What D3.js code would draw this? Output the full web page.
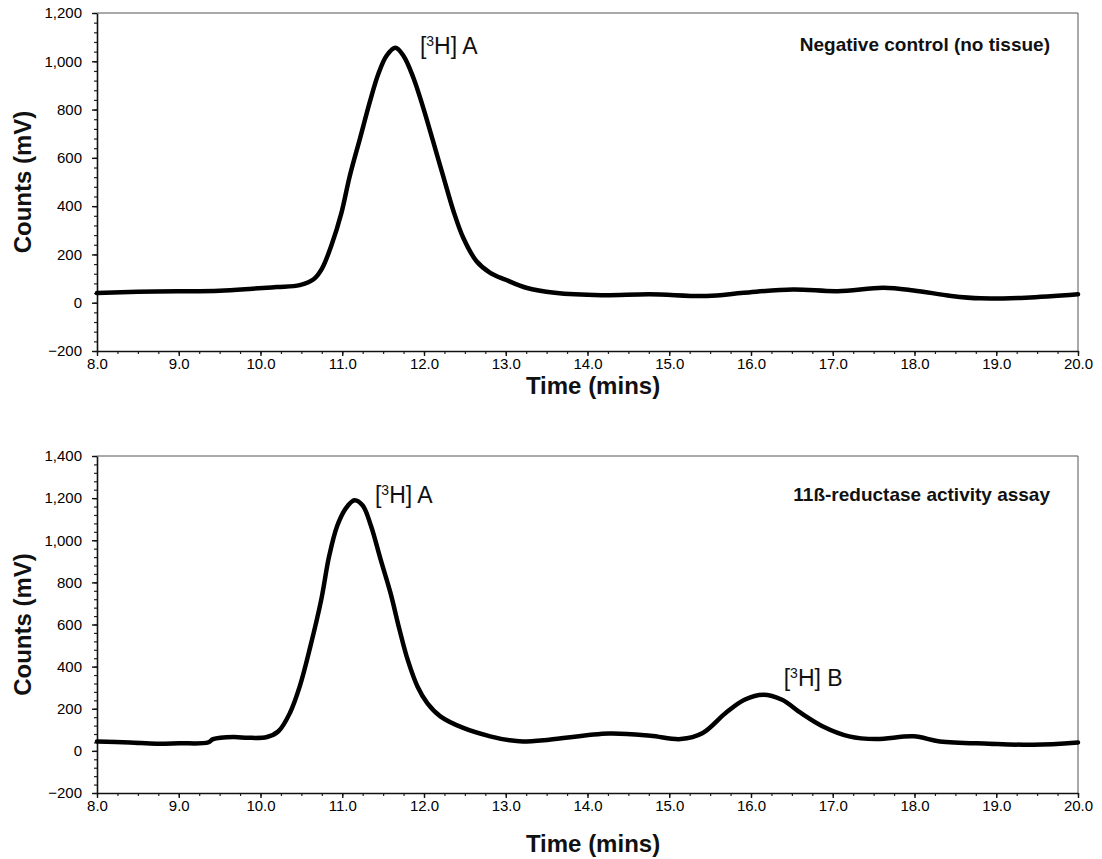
<!DOCTYPE html>
<html>
<head>
<meta charset="utf-8">
<script src="https://cdn.jsdelivr.net/npm/d3@7"></script>
<style>
  html, body { margin: 0; padding: 0; background: #fff; }
  svg { display: block; font-family: Arial, "Liberation Sans", sans-serif; }
</style>
</head>
<body>
<svg id="chart" width="1102" height="859"></svg>
<script>
// ---- Data ----
const xTicks = [8, 9, 10, 11, 12, 13, 14, 15, 16, 17, 18, 19, 20];
const topYTicks = [-200, 0, 200, 400, 600, 800, 1000, 1200];
const bottomYTicks = [-200, 0, 200, 400, 600, 800, 1000, 1200, 1400];

const topTime = [8.0, 8.5, 9.0, 9.5, 9.9, 10.2, 10.48, 10.65, 10.75, 10.87, 10.99, 11.09, 11.22, 11.34, 11.44, 11.54, 11.65, 11.75, 11.87, 11.99, 12.11, 12.24, 12.36, 12.48, 12.64, 12.81, 13.0, 13.25, 13.6, 14.17, 14.76, 15.46, 15.91, 16.51, 17.06, 17.62, 17.99, 18.45, 18.81, 19.36, 20.0];
const topCounts = [40, 45, 47, 50, 58, 65, 73, 97, 140, 240, 372, 522, 684, 835, 946, 1022, 1056, 1022, 932, 808, 670, 518, 380, 269, 173, 124, 95, 62, 41, 31, 35, 28, 41, 55, 48, 62, 51, 28, 18, 21, 35];

const bottomTime = [8.0, 8.4, 8.73, 9.0, 9.36, 9.42, 9.67, 9.85, 10.08, 10.22, 10.36, 10.48, 10.61, 10.74, 10.84, 10.94, 11.05, 11.15, 11.25, 11.35, 11.47, 11.59, 11.7, 11.8, 11.92, 12.04, 12.2, 12.48, 12.81, 13.05, 13.21, 13.53, 14.26, 14.77, 15.14, 15.41, 15.69, 15.92, 16.15, 16.38, 16.61, 16.88, 17.2, 17.53, 17.99, 18.31, 18.91, 19.46, 20.0];
const bottomCounts = [45, 40, 34, 36, 40, 56, 66, 62, 66, 93, 180, 306, 496, 712, 925, 1070, 1155, 1190, 1165, 1070, 908, 750, 576, 433, 306, 227, 164, 109, 69, 50, 45, 53, 82, 72, 56, 85, 180, 243, 267, 243, 180, 116, 69, 56, 69, 45, 34, 29, 40];

const panels = [
  { time: topTime, counts: topCounts, yTicks: topYTicks, yDomain: [-200, 1200], yRange: [351, 13],
    xAxisTitleY: 386, titleY: 51, peakLabels: [{ x: 11.95, y: 1030, sub: "A" }],
    title: "Negative control (no tissue)" },
  { time: bottomTime, counts: bottomCounts, yTicks: bottomYTicks, yDomain: [-200, 1400], yRange: [793, 456],
    xAxisTitleY: 844, titleY: 501, peakLabels: [{ x: 11.4, y: 1177, sub: "A" }, { x: 16.4, y: 310, sub: "B" }],
    title: "11ß-reductase activity assay" }
];

const svg = d3.select("#chart");
const xLeft = 97, xRight = 1078;
const FONT = "Arial, 'Liberation Sans', sans-serif";

panels.forEach(p => {
  const x = d3.scaleLinear().domain([8, 20]).range([xLeft, xRight]);
  const y = d3.scaleLinear().domain(p.yDomain).range(p.yRange);
  const g = svg.append("g");

  // frame (top + right)
  g.append("line").attr("x1", xLeft).attr("x2", xRight).attr("y1", p.yRange[1]).attr("y2", p.yRange[1])
    .attr("stroke", "#555").attr("stroke-width", 1);
  g.append("line").attr("x1", xRight).attr("x2", xRight).attr("y1", p.yRange[1]).attr("y2", p.yRange[0])
    .attr("stroke", "#555").attr("stroke-width", 1);

  // minor ticks
  const xMinor = d3.range(8, 20.0001, 0.25);
  g.append("g").attr("transform", `translate(0,${p.yRange[0]})`)
    .call(d3.axisBottom(x).tickValues(xMinor).tickSize(3).tickFormat(""))
    .call(s => s.select(".domain").remove())
    .call(s => s.selectAll("line").attr("stroke", "#222").attr("stroke-width", 1.2));
  const yMinor = d3.range(p.yDomain[0], p.yDomain[1] + 0.001, 40);
  g.append("g").attr("transform", `translate(${xLeft},0)`)
    .call(d3.axisLeft(y).tickValues(yMinor).tickSize(3).tickFormat(""))
    .call(s => s.select(".domain").remove())
    .call(s => s.selectAll("line").attr("stroke", "#222").attr("stroke-width", 1.2));

  // major axes
  const xAxis = d3.axisBottom(x).tickValues(xTicks).tickSize(5).tickSizeOuter(0).tickPadding(2).tickFormat(d3.format(".1f"));
  g.append("g").attr("transform", `translate(0,${p.yRange[0]})`).call(xAxis)
    .attr("font-size", 15)
    .call(s => s.select(".domain").attr("stroke", "#111").attr("stroke-width", 1.6))
    .call(s => s.selectAll("line").attr("stroke", "#111").attr("stroke-width", 1.4))
    .call(s => s.selectAll("text").attr("font-size", 15).attr("fill", "#000").attr("font-family", FONT));
  const yAxis = d3.axisLeft(y).tickValues(p.yTicks).tickSize(5).tickSizeOuter(0).tickPadding(10).tickFormat(d3.format(","));
  g.append("g").attr("transform", `translate(${xLeft},0)`).call(yAxis)
    .attr("font-size", 15)
    .call(s => s.select(".domain").attr("stroke", "#111").attr("stroke-width", 1.6))
    .call(s => s.selectAll("line").attr("stroke", "#111").attr("stroke-width", 1.4))
    .call(s => s.selectAll("text").attr("font-size", 15).attr("fill", "#000").attr("font-family", FONT));

  // axis titles
  g.append("text").attr("x", 593).attr("y", p.xAxisTitleY).attr("dy", "0.35em")
    .attr("text-anchor", "middle").attr("font-size", 24).attr("font-weight", "bold").attr("fill", "#111")
    .text("Time (mins)");
  const cy = (p.yRange[0] + p.yRange[1]) / 2;
  g.append("text").attr("transform", `translate(31,${cy}) rotate(-90)`)
    .attr("text-anchor", "middle").attr("font-size", 24).attr("font-weight", "bold").attr("fill", "#111")
    .text("Counts (mV)");

  // curve
  const line = d3.line().x((d, i) => x(p.time[i])).y((d, i) => y(p.counts[i])).curve(d3.curveCatmullRom.alpha(0.5));
  g.append("path").datum(p.counts).attr("d", line).attr("fill", "none")
    .attr("stroke", "#000").attr("stroke-width", 4.5).attr("stroke-linejoin", "round").attr("stroke-linecap", "round");

  // peak labels
  p.peakLabels.forEach(l => {
    const t = g.append("text").attr("x", x(l.x)).attr("y", y(l.y)).attr("font-size", 23).attr("fill", "#111");
    t.append("tspan").text("[");
    t.append("tspan").attr("font-size", 14).attr("dy", -8).text("3");
    t.append("tspan").attr("dy", 8).text("H] " + l.sub);
  });

  // panel title
  g.append("text").attr("x", 1050).attr("y", p.titleY).attr("text-anchor", "end")
    .attr("font-size", 19).attr("font-weight", "bold").attr("fill", "#111").text(p.title);
});
</script>
</body>
</html>
